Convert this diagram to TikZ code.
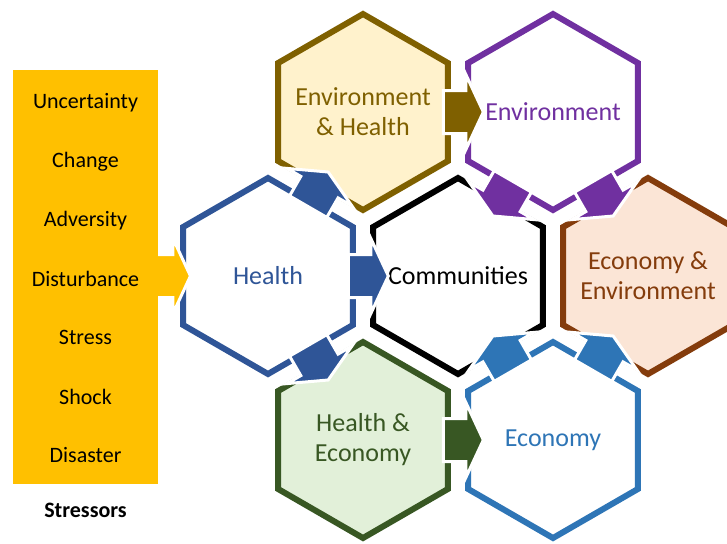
\documentclass[tikz,border=0pt]{standalone}
\usepackage{fontspec}
\setmainfont{Carlito}
\usetikzlibrary{shapes.geometric,shapes.arrows,calc}

\definecolor{ehline}{HTML}{7F6000}
\definecolor{ehfill}{HTML}{FFF2CC}
\definecolor{envline}{HTML}{7030A0}
\definecolor{healthline}{HTML}{2F5597}
\definecolor{eeline}{HTML}{843C0C}
\definecolor{eefill}{HTML}{FBE5D6}
\definecolor{heline}{HTML}{385723}
\definecolor{hefill}{HTML}{E2F0D9}
\definecolor{econline}{HTML}{2E75B6}
\definecolor{stressfill}{HTML}{FFC000}

\begin{document}
\begin{tikzpicture}[x=1pt,y=-1pt]
  \tikzset{
  hex/.style={regular polygon,regular polygon sides=6,shape border rotate=30,
    minimum size=196pt,inner sep=0pt,line width=6pt,draw=#1},
  hextext/.style={text=#1,align=center,font=\fontsize{26}{30}\selectfont},
  blockarrow/.style={single arrow,fill=#1,draw=white,line width=3pt,
    inner xsep=0pt,inner ysep=20pt,minimum height=40pt,
    single arrow head extend=16pt,single arrow tip angle=130},
  item/.style={font=\fontsize{22}{26}\selectfont},
  }
  \useasboundingbox (0,0) rectangle (727,543);

  % the hexagons
  \node[hex=ehline,fill=ehfill,label={[hextext=ehline]center:Environment\\\& Health}] (eh) at (363,112) {};
  \node[hex=envline,fill=white,label={[hextext=envline]center:Environment}] (env) at (553,112) {};
  \node[hex=healthline,fill=white,label={[hextext=healthline]center:Health}] (health) at (268,276) {};
  \node[hex=black,fill=white,label={[hextext=black]center:Communities}] (comm) at (458,276) {};
  \node[hex=eeline,fill=eefill,label={[hextext=eeline]center:Economy \&\\Environment}] (ee) at (648,276) {};
  \node[hex=heline,fill=hefill,label={[hextext=heline]center:Health \&\\Economy}] (he) at (363,440) {};
  \node[hex=econline,fill=white,label={[hextext=econline]center:Economy}] (econ) at (553,440) {};

  % the arrows between the hexagons
  \foreach \from/\to/\ang/\col in {health/eh/60/healthline,health/comm/0/healthline,
      health/he/-60/healthline,eh/env/0/ehline,env/comm/-120/envline,
      env/ee/-60/envline,he/econ/0/heline,econ/comm/120/econline,econ/ee/60/econline}
    \node[blockarrow=\col,rotate=\ang,anchor=tail] at ($(\from)!0.415!(\to)$) {};

  % the stressors
  \node[blockarrow=stressfill,minimum height=46pt,anchor=tip] (stressarrow)
    at ([xshift=12pt]health.west) {};
  \node[fill=stressfill,minimum width=145pt,minimum height=414pt,inner sep=0pt]
    (stressbox) at (85.5,277) {};
  \foreach \txt [count=\i from 0] in {Uncertainty,Change,Adversity,Disturbance,Stress,Shock,Disaster}
    \node[item] (s\i) at (85.5,103+58.7*\i) {\txt};
  \node[item,font=\fontsize{22}{26}\selectfont\bfseries] (stresslabel) at (85.5,510) {Stressors};
\end{tikzpicture}
\end{document}
